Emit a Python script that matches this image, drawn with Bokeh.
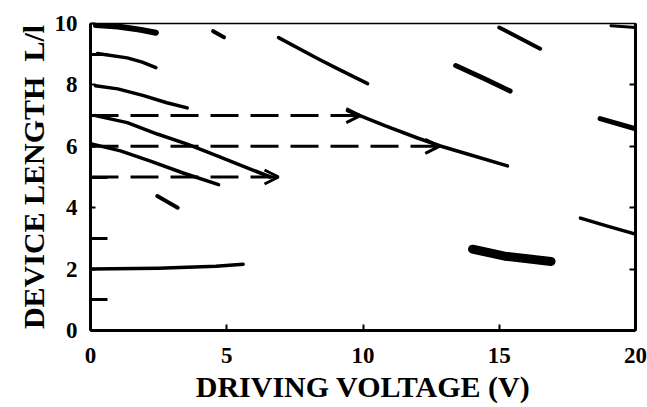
from bokeh.plotting import figure
from bokeh.models import Range1d, FixedTicker, LinearAxis, Arrow, OpenHead, ColumnDataSource
from bokeh.embed import file_html
from bokeh.resources import INLINE

# ---- data (x: driving voltage V, y: device length L/l) ----
x_ticks = [0, 5, 10, 15, 20]
y_ticks = [0, 2, 4, 6, 8, 10]
y_minor = [1, 3, 5, 7, 9]
right_ticks = [2, 4, 6, 8]

c10_x = [0.2, 1.0, 1.8, 2.4]
c10_y = [9.95, 9.9, 9.8, 9.7]
c10b_x = [4.5, 4.9]
c10b_y = [9.75, 9.55]
c9_x = [0.25, 1.35, 1.9, 2.4]
c9_y = [9.02, 8.88, 8.74, 8.56]
c8_x = [0.18, 1.0, 1.95, 2.8, 3.55]
c8_y = [7.97, 7.87, 7.65, 7.42, 7.25]
c7_x = [0.18, 1.35, 2.45, 3.55, 4.65, 5.75, 6.6]
c7_y = [7.0, 6.77, 6.4, 6.07, 5.69, 5.3, 5.0]
c6_x = [0.07, 1.1, 2.2, 3.4, 4.7]
c6_y = [6.07, 5.85, 5.52, 5.13, 4.75]
c4_x = [2.45, 3.2]
c4_y = [4.38, 4.0]
c2_x = [0.0, 2.5, 4.6, 5.6]
c2_y = [2.0, 2.03, 2.09, 2.16]
cm_x = [6.9, 8.33, 9.06, 10.17]
cm_y = [9.54, 8.86, 8.53, 8.04]
cl_x = [9.43, 10.8, 12.0, 12.84, 13.83, 15.3]
cl_y = [7.16, 6.67, 6.27, 6.01, 5.75, 5.36]
c86_x = [13.4, 14.46, 15.4]
c86_y = [8.63, 8.2, 7.8]
c98_x = [15.0, 16.5]
c98_y = [9.87, 9.18]
c68_x = [18.7, 20.0]
c68_y = [6.9, 6.57]
c35_x = [17.98, 18.97, 20.0]
c35_y = [3.66, 3.4, 3.14]
c25_x = [14.02, 15.2, 16.9]
c25_y = [2.65, 2.42, 2.25]
c99_x = [19.1, 20.0]
c99_y = [9.93, 9.87]

arrow_x0 = [0.0, 0.0, 0.0]
arrow_y0 = [7.0, 6.0, 5.0]
arrow_x1 = [9.9, 12.8, 6.9]
arrow_y1 = [7.0, 6.0, 5.0]

FONT = "Liberation Serif"

p = figure(width=647, height=407, x_range=Range1d(0, 20), y_range=Range1d(0, 10),
           output_backend="svg", toolbar_location=None,
           min_border_left=90, min_border_right=12, min_border_top=23, min_border_bottom=77)
p.grid.visible = False
p.background_fill_color = "white"
p.border_fill_color = "white"
p.outline_line_color = "black"
p.outline_line_width = 1.5

xa = p.xaxis[0]
xa.ticker = FixedTicker(ticks=x_ticks)
xa.axis_line_width = 3
xa.major_tick_in = 6
xa.major_tick_out = 0
xa.major_tick_line_width = 2
xa.minor_tick_line_color = None
xa.major_label_text_font = FONT
xa.major_label_text_font_style = "bold"
xa.major_label_text_font_size = "23px"
xa.major_label_text_color = "black"
xa.major_label_standoff = 17
xa.axis_label = "DRIVING VOLTAGE (V)"
xa.axis_label_text_font = FONT
xa.axis_label_text_font_style = "bold"
xa.axis_label_text_font_size = "30px"
xa.axis_label_text_color = "black"
xa.axis_label_standoff = 4

ya = p.yaxis[0]
ya.ticker = FixedTicker(ticks=y_ticks, minor_ticks=y_minor)
ya.axis_line_width = 3
ya.major_tick_in = 5
ya.major_tick_out = 0
ya.major_tick_line_width = 2
ya.minor_tick_in = 17
ya.minor_tick_out = 0
ya.minor_tick_line_width = 3
ya.major_label_text_font = FONT
ya.major_label_text_font_style = "bold"
ya.major_label_text_font_size = "23px"
ya.major_label_text_color = "black"
ya.major_label_standoff = 13
ya.axis_label = "DEVICE LENGTH\u00a0\u00a0L/l"
ya.axis_label_text_font = FONT
ya.axis_label_text_font_style = "bold"
ya.axis_label_text_font_size = "30px"
ya.axis_label_text_color = "black"
ya.axis_label_standoff = 2

ra = LinearAxis(ticker=FixedTicker(ticks=right_ticks))
ra.axis_line_width = 3
ra.major_tick_in = 6
ra.major_tick_out = 0
ra.major_tick_line_width = 2
ra.minor_tick_line_color = None
ra.major_label_text_font_size = "10px"
ra.major_label_text_color = None
ra.major_label_standoff = 0
p.add_layout(ra, "right")

def curve(xs, ys, w):
    p.line(xs, ys, line_color="black", line_width=w, line_cap="round", line_join="round")

curve(c10_x, c10_y, 6)
curve(c10b_x, c10b_y, 4)
curve(c9_x, c9_y, 3.5)
curve(c8_x, c8_y, 3.5)
curve(c7_x, c7_y, 3.5)
curve(c6_x, c6_y, 3.5)
curve(c4_x, c4_y, 4)
curve(c2_x, c2_y, 3.5)
curve(cm_x, cm_y, 3.5)
curve(cl_x, cl_y, 3.5)
curve(c86_x, c86_y, 5)
curve(c98_x, c98_y, 4)
curve(c68_x, c68_y, 5)
curve(c35_x, c35_y, 3.5)
curve(c25_x, c25_y, 9)
curve(c99_x, c99_y, 3)

src = ColumnDataSource(dict(x0=arrow_x0, y0=arrow_y0, x1=arrow_x1, y1=arrow_y1))
p.add_layout(Arrow(source=src, x_start="x0", y_start="y0", x_end="x1", y_end="y1",
                   line_width=3, line_dash="28 12", line_color="black",
                   end=OpenHead(size=14, line_width=3, line_color="black")))

open("out.html", "w").write(file_html(p, INLINE))
